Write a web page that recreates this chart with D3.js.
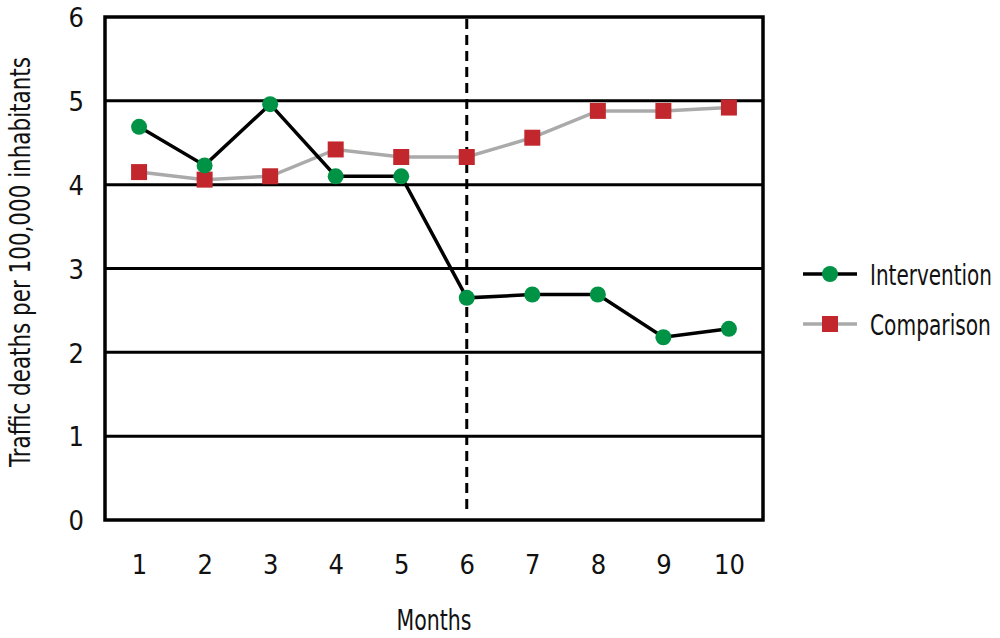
<!DOCTYPE html>
<html><head><meta charset="utf-8">
<script src="https://cdn.jsdelivr.net/npm/d3@7"></script>
<style>body{margin:0;background:#fff}text{font-family:"DejaVu Sans Condensed","Liberation Sans Narrow",sans-serif;fill:#111}</style>
</head><body><svg id="c" width="1000" height="638"></svg>
<script>
const months=[1,2,3,4,5,6,7,8,9,10];
const intervention=[4.69,4.23,4.96,4.10,4.10,2.65,2.69,2.69,2.18,2.28];
const comparison=[4.15,4.06,4.10,4.42,4.33,4.33,4.56,4.88,4.88,4.92];
const yTicks=[0,1,2,3,4,5,6];
const interventionMonth=6;

const svg=d3.select("#c");
const x=d3.scaleLinear().domain([0.48,10.52]).range([105,763]);
const y=d3.scaleLinear().domain([0,6]).range([520,17]);

// gridlines
svg.append("g").selectAll("line").data(yTicks.filter(d=>d>0&&d<6)).join("line")
 .attr("x1",105).attr("x2",763).attr("y1",d=>y(d)).attr("y2",d=>y(d))
 .attr("stroke","#000").attr("stroke-width",3);
// frame
svg.append("rect").attr("x",105).attr("y",17).attr("width",658).attr("height",503)
 .attr("fill","none").attr("stroke","#000").attr("stroke-width",3.5);
// dashed line
svg.append("line").attr("x1",x(interventionMonth)).attr("x2",x(interventionMonth))
 .attr("y1",y(6)+2).attr("y2",y(0)-10).attr("stroke","#000").attr("stroke-width",3).attr("stroke-dasharray","10,6");

// axes
const yAxis=d3.axisLeft(y).tickValues(yTicks).tickSize(0).tickPadding(21).tickFormat(d3.format("d"));
const gy=svg.append("g").attr("transform","translate(105,0)").call(yAxis);
gy.select(".domain").remove();
gy.selectAll("text").style("font-size","27px").attr("dy","0.36em").attr("fill","#111");
const xAxis=d3.axisBottom(x).tickValues(months).tickSize(0).tickPadding(35).tickFormat(d3.format("d"));
const gx=svg.append("g").attr("transform","translate(0,520)").call(xAxis);
gx.select(".domain").remove();
gx.selectAll("text").style("font-size","27px").attr("fill","#111");

// condensed text helper: scale horizontally so the text fills a given width
function condText(parent, tx, ty, rot, anchor, size, width, str){
  const g=parent.append("g").attr("transform",`translate(${tx},${ty}) rotate(${rot})`);
  const t=g.append("text").attr("text-anchor",anchor).style("font-size",size+"px").text(str);
  const w=t.node().getComputedTextLength();
  t.attr("transform",`scale(${width/w},1)`);
  return g;
}
condText(svg,434,630,0,"middle",29,75,"Months");
condText(svg,30,262,-90,"middle",29,410,"Traffic deaths per 100,000 inhabitants");

const line=d3.line().x((d,i)=>x(months[i])).y(d=>y(d));
svg.append("path").datum(comparison).attr("d",line).attr("fill","none").attr("stroke","#aaaaaa").attr("stroke-width",3.5);
svg.append("path").datum(intervention).attr("d",line).attr("fill","none").attr("stroke","#000").attr("stroke-width",3.5);
svg.append("g").selectAll("rect").data(comparison).join("rect")
 .attr("x",(d,i)=>x(months[i])-8).attr("y",d=>y(d)-8).attr("width",16).attr("height",16).attr("fill","#c1272d");
svg.append("g").selectAll("circle").data(intervention).join("circle")
 .attr("cx",(d,i)=>x(months[i])).attr("cy",d=>y(d)).attr("r",8).attr("fill","#009245");

// legend
const lg=svg.append("g");
lg.append("line").attr("x1",803).attr("x2",857).attr("y1",274).attr("y2",274).attr("stroke","#000").attr("stroke-width",3.5);
lg.append("circle").attr("cx",830).attr("cy",274).attr("r",8).attr("fill","#009245");
condText(lg,870,285,0,"start",29,122,"Intervention");
lg.append("line").attr("x1",803).attr("x2",857).attr("y1",324).attr("y2",324).attr("stroke","#aaaaaa").attr("stroke-width",3.5);
lg.append("rect").attr("x",822).attr("y",316).attr("width",16).attr("height",16).attr("fill","#c1272d");
condText(lg,870,335,0,"start",29,121,"Comparison");
</script></body></html>
